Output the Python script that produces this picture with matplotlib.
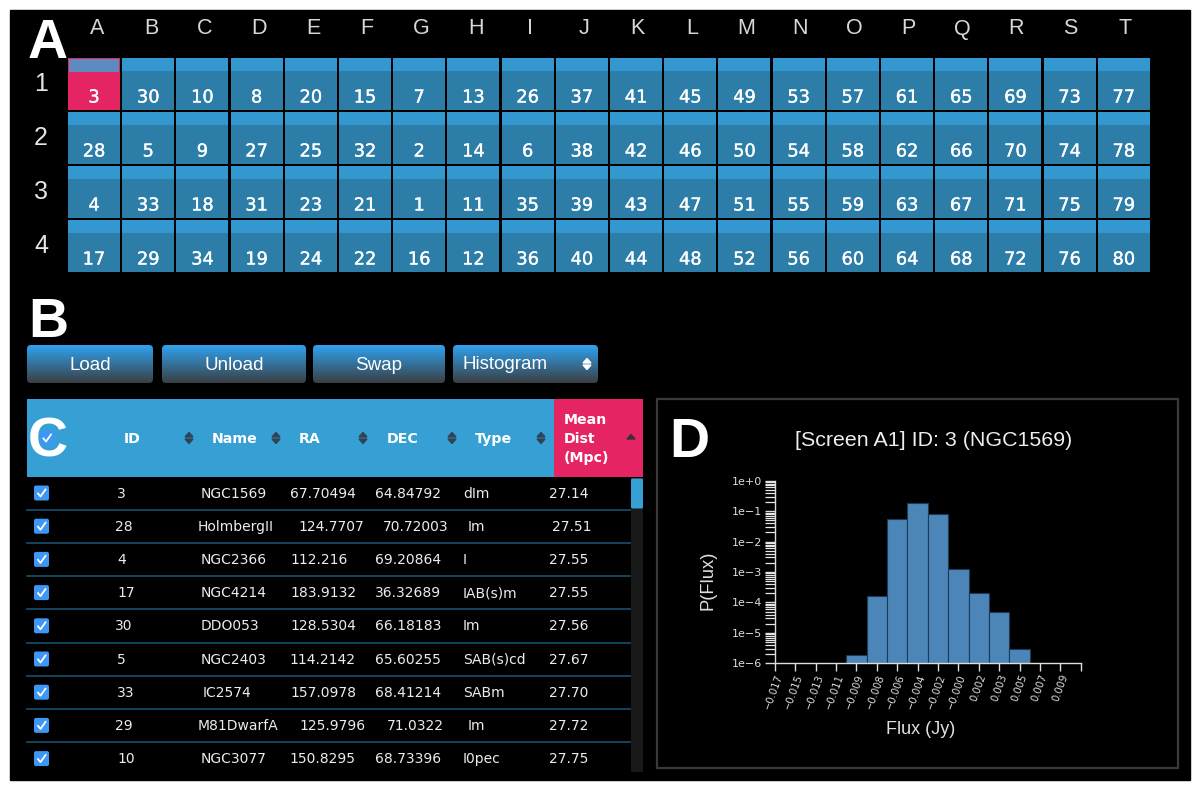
import numpy as np
import matplotlib
matplotlib.use('Agg')
import matplotlib.pyplot as plt
import matplotlib.patheffects as pe
from matplotlib.patches import Rectangle, FancyBboxPatch, Polygon

# plate layout
col_names = list('ABCDEFGHIJKLMNOPQRST')
row_names = ['1', '2', '3', '4']
screen_ids = [
    [3, 30, 10, 8, 20, 15, 7, 13, 26, 37, 41, 45, 49, 53, 57, 61, 65, 69, 73, 77],
    [28, 5, 9, 27, 25, 32, 2, 14, 6, 38, 42, 46, 50, 54, 58, 62, 66, 70, 74, 78],
    [4, 33, 18, 31, 23, 21, 1, 11, 35, 39, 43, 47, 51, 55, 59, 63, 67, 71, 75, 79],
    [17, 29, 34, 19, 24, 22, 16, 12, 36, 40, 44, 48, 52, 56, 60, 64, 68, 72, 76, 80],
]

# table
ids = ['3', '28', '4', '17', '30', '5', '33', '29', '10']
names = ['NGC1569', 'HolmbergII', 'NGC2366', 'NGC4214', 'DDO053', 'NGC2403', 'IC2574', 'M81DwarfA', 'NGC3077']
ra = ['67.70494', '124.7707', '112.216', '183.9132', '128.5304', '114.2142', '157.0978', '125.9796', '150.8295']
dec = ['64.84792', '70.72003', '69.20864', '36.32689', '66.18183', '65.60255', '68.41214', '71.0322', '68.73396']
types = ['dIm', 'Im', 'I', 'IAB(s)m', 'Im', 'SAB(s)cd', 'SABm', 'Im', 'I0pec']
dist = ['27.14', '27.51', '27.55', '27.55', '27.56', '27.67', '27.70', '27.72', '27.75']

# histogram
flux_labels = ['−0.017', '−0.015', '−0.013', '−0.011', '−0.009', '−0.008', '−0.006', '−0.004',
               '−0.002', '−0.000', '0.002', '0.003', '0.005', '0.007', '0.009', '']
p_flux = [0, 0, 0, 0, 1.9e-6, 1.6e-4, 5.4e-2, 0.186, 8.1e-2, 1.26e-3, 2.1e-4, 4.7e-5, 2.9e-6, 0, 0]

BLUE = '#36a0d4'
CELL = '#2c7da8'
PINK = '#e52463'
LINE = '#17506f'
SANS = 'Liberation Sans'

fig = plt.figure(figsize=(12, 7.9), dpi=100, facecolor='white')
ax = fig.add_axes([0, 0, 1, 1])
ax.set_xlim(0, 1200)
ax.set_ylim(790, 0)
ax.axis('off')
ax.add_patch(Rectangle((10, 10), 1180, 770, color='black', zorder=0))


def gradient_button(x0, y0, x1, y1):
    box = FancyBboxPatch((x0 + 4, y0 + 4), x1 - x0 - 8, y1 - y0 - 8, boxstyle='round,pad=4',
                         fc='none', ec='none', transform=ax.transData)
    ax.add_patch(box)
    top = np.array(matplotlib.colors.to_rgb('#30a2ef'))
    bottom = np.array(matplotlib.colors.to_rgb('#3a3f44'))
    t = np.linspace(0, 1, 64)[:, None, None]
    grad = top * (1 - t) + bottom * t
    im = ax.imshow(grad, extent=(x0, x1, y1, y0), aspect='auto', zorder=2)
    im.set_clip_path(box)


def sort_icon(x, y, color='#2f4354', up=True, down=True):
    if up:
        ax.add_patch(Polygon([(x - 4, y - 1), (x + 4, y - 1), (x, y - 5.5)], color=color, zorder=3))
    if down:
        ax.add_patch(Polygon([(x - 4, y + 1), (x + 4, y + 1), (x, y + 5.5)], color=color, zorder=3))


def checkbox(x, y):
    ax.add_patch(FancyBboxPatch((x - 5.5, y - 5.5), 11, 11, boxstyle='round,pad=2',
                                fc='#3d97f5', ec='none', zorder=3))
    ax.plot([x - 3.5, x - 1, x + 4], [y + 0.5, y + 3.5, y - 3.5], color='white', lw=1.3, zorder=4)


# panel A
for j, name in enumerate(col_names):
    ax.text(96.8 + j * 54.1, 29, name, color='#d8d8d8', family=SANS, fontsize=15.5,
            ha='center', va='center')
for i, name in enumerate(row_names):
    ax.text(41, 84 + i * 54, name, color='#e6e6e6', family=SANS, fontsize=18,
            ha='center', va='center')

for i, row in enumerate(screen_ids):
    for j, sid in enumerate(row):
        x = 68 + j * 54.2
        y = 58 + i * 54
        selected = sid == 3
        ax.add_patch(Rectangle((x, y), 52, 52, fc=PINK if selected else CELL, ec='none', zorder=1))
        ax.add_patch(Rectangle((x + (1 if selected else 0), y + (1 if selected else 0)),
                               52 - (2 if selected else 0), 13, fc='#5d8abf' if selected else '#3398cf',
                               ec='none', zorder=1))
        ax.text(x + 26, y + 39.5, str(sid), color='white', fontsize=12.8, ha='center', va='center',
                zorder=2, path_effects=[pe.withStroke(linewidth=0.25, foreground='white')])

ax.text(48, 58, 'A', color='white', family=SANS, fontweight='bold', fontsize=40, ha='center', va='baseline', zorder=6)
ax.text(48.5, 337, 'B', color='white', family=SANS, fontweight='bold', fontsize=40, ha='center', va='baseline', zorder=6)
ax.text(48, 456.5, 'C', color='white', family=SANS, fontweight='bold', fontsize=40, ha='center', va='baseline', zorder=6)
ax.text(689, 457, 'D', color='white', family=SANS, fontweight='bold', fontsize=40, ha='center', va='baseline', zorder=6)

# panel B
for label, x0, x1 in [('Load', 27, 153), ('Unload', 162, 306), ('Swap', 313, 445)]:
    gradient_button(x0, 345, x1, 383)
    ax.text((x0 + x1) / 2, 365, label, color='white', family=SANS, fontsize=13.5, ha='center', va='center', zorder=4)
gradient_button(453, 345, 598, 383)
ax.text(463, 364.5, 'Histogram', color='white', family=SANS, fontsize=13.5, ha='left', va='center', zorder=4)
sort_icon(587, 364, color='white')

# panel C
ax.add_patch(Rectangle((27, 399), 527, 78, fc=BLUE, ec='none', zorder=1))
ax.add_patch(Rectangle((554, 399), 89, 78, fc=PINK, ec='none', zorder=1))
checkbox(47, 438)
for label, x in [('ID', 124), ('Name', 212), ('RA', 299), ('DEC', 387), ('Type', 475)]:
    ax.text(x, 439, label, color='white', fontsize=10.2, fontweight='bold', ha='left', va='center', zorder=3)
for x in [189, 276, 363, 452, 541]:
    sort_icon(x, 438)
sort_icon(631, 440, color='#33333f', down=False)
ax.text(564, 439, 'Mean\nDist\n(Mpc)', color='white', fontsize=10.2, fontweight='bold',
        ha='left', va='center', linespacing=1.42, zorder=3)

ax.add_patch(Rectangle((631, 478), 12, 294, fc='#191919', ec='none', zorder=1))
ax.add_patch(FancyBboxPatch((632.5, 480), 9, 27, boxstyle='round,pad=1.5', fc=BLUE, ec='none', zorder=2))

id_x = [117, 115, 117, 117, 115, 117, 117, 115, 117]
name_x = [201, 198, 201, 201, 201, 201, 203, 198, 201]
ra_x = [290, 298, 290, 290, 290, 289, 290, 299, 289]
dec_x = [375, 383, 375, 375, 375, 375, 375, 387, 375]
type_x = [463, 468, 463, 463, 463, 463, 463, 468, 463]
dist_x = [549, 552, 549, 549, 549, 549, 549, 549, 549]

for i in range(len(ids)):
    y = 493 + i * 33.2
    checkbox(41.5, y)
    for value, xs in [(ids[i], id_x), (names[i], name_x), (ra[i], ra_x), (dec[i], dec_x),
                      (types[i], type_x), (dist[i], dist_x)]:
        ax.text(xs[i], y + 0.5, value, color='#ececec', fontsize=10, ha='left', va='center', zorder=3)
    if i < len(ids) - 1:
        ax.plot([27, 630], [y + 16.8, y + 16.8], color=LINE, lw=1.2, zorder=2)

# panel D
ax.add_patch(Rectangle((657, 398.5), 521, 369, fc='none', ec='#3a3a3a', lw=1.6, zorder=1))
ax.text(933.5, 441, '[Screen A1] ID: 3 (NGC1569)', color='#eeeeee', family=SANS, fontsize=15.4,
        ha='center', va='center', zorder=3)
ax.text(708, 580, 'P(Flux)', color='#e0e0e0', family=SANS, fontsize=13.2, rotation=90,
        ha='center', va='center', zorder=3)
ax.text(921, 729, 'Flux (Jy)', color='#e0e0e0', family=SANS, fontsize=13, ha='center', va='center', zorder=3)

hx = fig.add_axes([774.7 / 1200, (790 - 663.3) / 790, 306 / 1200, 182.6 / 790], facecolor='none')
for i, p in enumerate(p_flux):
    if p > 0:
        hx.bar(i, p - 1e-6, bottom=1e-6, width=1.0, color='#4c86b9', edgecolor='#1c3a55', linewidth=0.8)
hx.set_yscale('log')
hx.set_ylim(1e-6, 1)
hx.set_xlim(0, 15)
hx.set_xticks(range(len(flux_labels)))
hx.set_xticklabels(flux_labels, rotation=70, ha='right', va='top', rotation_mode='anchor',
                   fontsize=7.2, color='#d4d4d4')
hx.set_yticks([1e-6, 1e-5, 1e-4, 1e-3, 1e-2, 1e-1, 1])
hx.set_yticklabels(['1e−6', '1e−5', '1e−4', '1e−3', '1e−2', '1e−1', '1e+0'], fontsize=8, color='#dddddd')
hx.yaxis.set_minor_locator(matplotlib.ticker.LogLocator(base=10, subs=np.arange(2, 10), numticks=20))
hx.yaxis.set_minor_formatter(matplotlib.ticker.NullFormatter())
hx.tick_params(axis='x', colors='#dddddd', length=6, width=1, pad=1)
hx.tick_params(axis='y', which='major', colors='#dddddd', length=7, width=1, pad=2)
hx.tick_params(axis='y', which='minor', colors='#e8e8e8', length=7, width=0.9)
for side in ['top', 'right']:
    hx.spines[side].set_visible(False)
for side in ['left', 'bottom']:
    hx.spines[side].set_color('#dddddd')
    hx.spines[side].set_linewidth(1)

fig.savefig('out.png', dpi=100, facecolor='white')
